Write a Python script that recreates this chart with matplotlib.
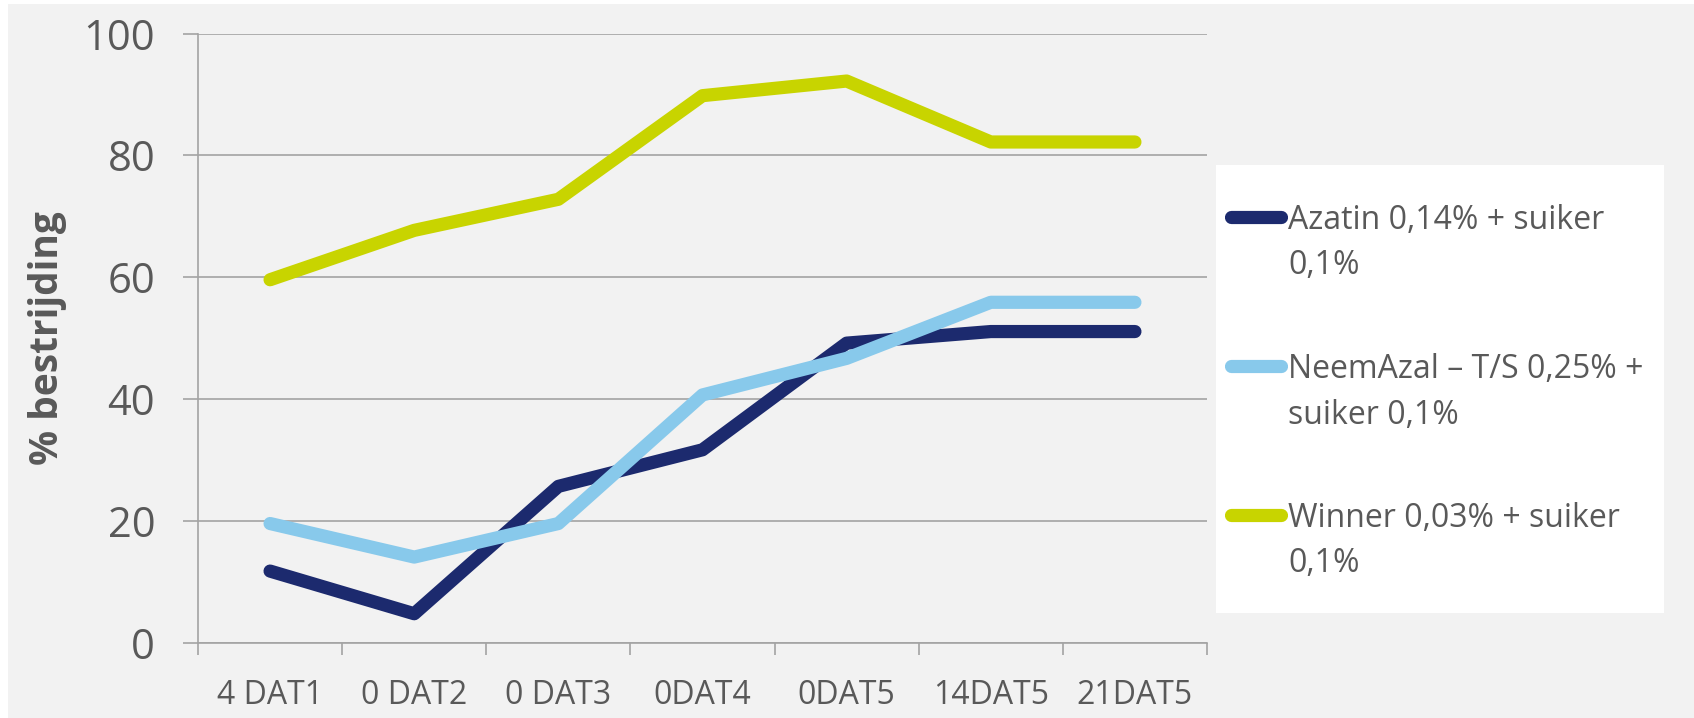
import numpy as np
import matplotlib
matplotlib.use('Agg')
from matplotlib import pyplot as plt
from matplotlib.patches import Rectangle

# data
categories = ['4 DAT1', '0 DAT2', '0 DAT3', '0DAT4', '0DAT5', '14DAT5', '21DAT5']
azatin = [11.8, 4.8, 25.7, 31.7, 49.2, 51.1, 51.1]
neemazal = [19.6, 14.1, 19.6, 40.7, 46.7, 55.9, 55.9]
winner = [59.6, 67.7, 72.8, 89.8, 92.2, 82.2, 82.2]

series_names = ['Azatin 0,14% + suiker\n0,1%',
                'NeemAzal \u2013 T/S 0,25% +\nsuiker 0,1%',
                'Winner 0,03% + suiker\n0,1%']
colors = ['#1c2a6e', '#88c9eb', '#c8d400']
yticks = [0, 20, 40, 60, 80, 100]

bg = '#f2f2f2'
txt = '#595959'
grid = '#a3a3a3'

plt.rcParams['font.family'] = ['Open Sans', 'DejaVu Sans']

W, H = 1694, 718
fig = plt.figure(figsize=(W/100, H/100), dpi=100, facecolor='white')
fig.patches.append(Rectangle((8/W, 0), 1 - 8/W, 714/H, transform=fig.transFigure,
                             facecolor=bg, edgecolor='none', zorder=-10))

ax = fig.add_axes([198/W, (H-643)/H, 1009/W, 609.5/H])
ax.set_facecolor(bg)

x = np.arange(len(categories))
for vals, c in zip([azatin, neemazal, winner], colors):
  ax.plot(x, vals, color=c, lw=9.5, solid_capstyle='round', solid_joinstyle='round', zorder=3)

ax.set_xlim(-0.5, len(categories) - 0.5)
ax.set_ylim(0, 100)
ax.set_yticks(yticks)
ax.set_yticklabels([str(v) for v in yticks], fontsize=30, color=txt)
ax.yaxis.grid(True, color=grid, lw=1.2)
ax.set_axisbelow(True)

# labels centered on categories, tick marks on the boundaries
ax.set_xticks(x)
ax.set_xticklabels(categories, fontsize=23, color=txt)
ax.set_xticks(np.arange(len(categories) + 1) - 0.5, minor=True)
ax.tick_params(axis='x', which='major', length=0, pad=26)
ax.tick_params(axis='x', which='minor', length=8.6, width=1.2, color=grid, direction='out')
ax.tick_params(axis='y', length=10.8, width=1.2, color=grid, direction='out', pad=20)

for s in ['top', 'right']:
  ax.spines[s].set_visible(False)
for s in ['left', 'bottom']:
  ax.spines[s].set_color(grid)
  ax.spines[s].set_linewidth(1.2)

ax.set_ylabel('% bestrijding', fontsize=28, fontweight='bold', color=txt, va='center')
ax.yaxis.set_label_coords((47.5 - 198)/1009, 0.5)

# legend box on the right
lax = fig.add_axes([1216/W, (H-612.7)/H, 448/W, 448/H])
lax.set_facecolor('white')
lax.set_xlim(0, 448)
lax.set_ylim(448, 0)
lax.set_xticks([])
lax.set_yticks([])
for s in lax.spines.values():
  s.set_visible(False)

for i, (name, c) in enumerate(zip(series_names, colors)):
  yy = 52.3 + 149*i
  lax.plot([14.5, 64.5], [yy, yy], color=c, lw=9.5, solid_capstyle='round')
  lax.text(72, yy - 13, name, fontsize=23, color=txt, va='top', ha='left', linespacing=1.5)

plt.savefig('out.png', dpi=100, facecolor=fig.get_facecolor())
